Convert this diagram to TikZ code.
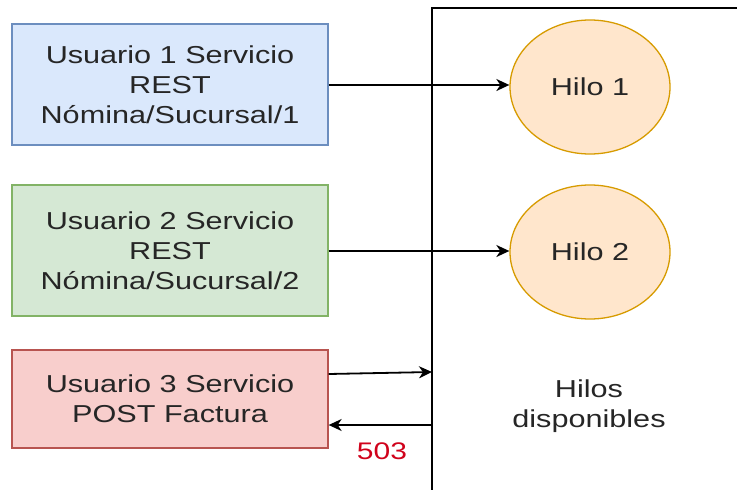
\documentclass[tikz,border=0pt]{standalone}
\usepackage{fontspec}
\setmainfont[FakeStretch=1.25]{Liberation Sans}
\usetikzlibrary{arrows.meta,shapes.geometric}
\definecolor{blueFill}{HTML}{DAE8FC}
\definecolor{blueLine}{HTML}{6C8EBF}
\definecolor{greenFill}{HTML}{D5E8D4}
\definecolor{greenLine}{HTML}{82B366}
\definecolor{redFill}{HTML}{F8CECC}
\definecolor{redLine}{HTML}{B85450}
\definecolor{orangeFill}{HTML}{FFE6CC}
\definecolor{orangeLine}{HTML}{D79B00}
\definecolor{codeRed}{HTML}{D0021B}
\tikzset{
  label font/.style={font=\fontsize{24.5}{30}\selectfont, text=black!85},
  userbox/.style={draw, line width=1.3pt, minimum width=316pt, align=center, inner sep=0pt, label font},
  thread/.style={ellipse, draw=orangeLine, fill=orangeFill, line width=1.3pt,
    minimum width=160pt, minimum height=134pt, label font},
  conn/.style={line width=1.8pt, -{Stealth[length=13pt, width=12pt, inset=4pt]}},
}
\begin{document}
\begin{tikzpicture}[x=1pt, y=-1pt]
  \useasboundingbox (0,0) rectangle (737,490);
  % thread pool frame (open to the right and bottom)
  \coordinate (poolBL) at (432,490);
  \coordinate (poolTL) at (432,8);
  \coordinate (poolTR) at (737,8);
  \draw[line width=1.8pt] (poolBL) -- (poolTL) -- (poolTR);

  % client requests
  \node[userbox, draw=blueLine, fill=blueFill, minimum height=121pt] (u1) at (170,84.5)
    {Usuario 1 Servicio\\REST\\Nómina/Sucursal/1};
  \node[userbox, draw=greenLine, fill=greenFill, minimum height=131pt] (u2) at (170,250.5)
    {Usuario 2 Servicio\\REST\\Nómina/Sucursal/2};
  \node[userbox, draw=redLine, fill=redFill, minimum height=98pt] (u3) at (170,399)
    {Usuario 3 Servicio\\POST Factura};

  % worker threads
  \node[thread] (h1) at (590,87) {Hilo 1};
  \node[thread] (h2) at (590,252) {Hilo 2};
  \node[label font, align=center] (free) at (589,406) {Hilos\\disponibles};

  % requests and rejection
  \draw[conn] (u1.east |- 0,85) -- (h1.west |- 0,85);
  \draw[conn] (u2.east |- 0,251) -- (h2.west |- 0,251);
  \coordinate (in3) at (432,372);
  \coordinate (out3) at (432,425);
  \draw[conn] (u3.east |- 0,374) -- (in3);
  \draw[conn] (out3) -- (u3.east |- out3);
  \node[text=codeRed, font=\fontsize{24}{28}\selectfont] (code) at (382,451) {503};
\end{tikzpicture}
\end{document}
